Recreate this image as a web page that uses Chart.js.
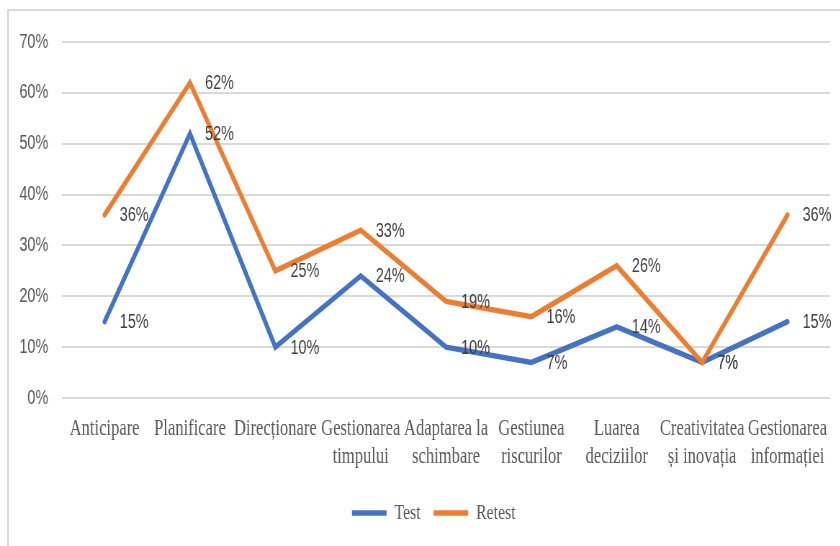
<!DOCTYPE html>
<html>
<head>
<meta charset="utf-8">
<script src="https://cdn.jsdelivr.net/npm/chart.js@4"></script>
<style>
  body { margin: 0; background: #fff; overflow: hidden; }
  #wrap { position: absolute; left: 0; top: 0; width: 1167px; height: 546px;
          transform: scaleX(0.72); transform-origin: 0 0; }
  #frame { position: absolute; left: 7px; top: 9px; width: 900px; height: 600px;
           border-left: 2px solid #d9d9d9; border-top: 2px solid #d9d9d9; }
</style>
</head>
<body>
<div id="frame"></div>
<div id="wrap"><canvas id="chart" width="1167" height="546"></canvas></div>
<script>
/* DATA */
const categories = [
  "Anticipare",
  "Planificare",
  "Direcționare",
  ["Gestionarea", "timpului"],
  ["Adaptarea la", "schimbare"],
  ["Gestiunea", "riscurilor"],
  ["Luarea", "deciziilor"],
  ["Creativitatea", "și inovația"],
  ["Gestionarea", "informației"]
];
const testValues = [15, 52, 10, 24, 10, 7, 14, 7, 15];
const retestValues = [36, 62, 25, 33, 19, 16, 26, 7, 36];
const yTicks = [0, 10, 20, 30, 40, 50, 60, 70];

/* VALUE LABELS */
const valueLabels = {
  id: "valueLabels",
  afterDatasetsDraw(chart) {
    const ctx = chart.ctx;
    ctx.save();
    ctx.font = '20px "Liberation Sans"';
    ctx.fillStyle = "#404040";
    ctx.textAlign = "left";
    ctx.textBaseline = "middle";
    chart.data.datasets.forEach((ds, i) => {
      chart.getDatasetMeta(i).data.forEach((pt, j) => {
        ctx.fillText(ds.data[j] + "%", pt.x + 21, pt.y + 1);
      });
    });
    ctx.restore();
  }
};

/* legend sits a bit right of the plot centre in the original */
const shiftLegend = {
  id: "shiftLegend",
  afterLayout(chart) {
    chart.legend.left += 22;
    chart.legend.right += 22;
  }
};

new Chart(document.getElementById("chart"), {
  type: "line",
  data: {
    labels: categories,
    datasets: [
      { label: "Test", data: testValues, borderColor: "#4472c4", backgroundColor: "#4472c4",
        borderWidth: 5.5, pointRadius: 0, borderCapStyle: "round", order: 1 },
      { label: "Retest", data: retestValues, borderColor: "#ed7d31", backgroundColor: "#ed7d31",
        borderWidth: 5.5, pointRadius: 0, borderCapStyle: "round", order: 0 }
    ]
  },
  options: {
    responsive: false,
    animation: false,
    devicePixelRatio: 1,
    layout: { padding: { top: 42, left: 8, right: 14, bottom: 12 } },
    plugins: {
      tooltip: { enabled: false },
      legend: {
        position: "bottom",
        labels: {
          usePointStyle: true,
          pointStyle: "line",
          pointStyleWidth: 48,
          padding: 18,
          color: "#595959",
          font: { family: "Liberation Serif", size: 22 },
          sort: (a, b) => a.datasetIndex - b.datasetIndex
        }
      }
    },
    scales: {
      x: {
        offset: true,
        grid: { display: false },
        border: { display: false },
        ticks: {
          autoSkip: false, maxRotation: 0, padding: 9,
          color: "#595959",
          font: { family: "Liberation Serif", size: 23, lineHeight: 1.22 }
        },
        afterFit: s => { s.height = 86; }
      },
      y: {
        min: 0, max: 70,
        afterBuildTicks: s => { s.ticks = yTicks.map(v => ({ value: v })); },
        grid: { color: "#d9d9d9", lineWidth: 2, drawTicks: false },
        border: { display: false },
        ticks: {
          padding: 19,
          color: "#595959",
          font: { family: "Liberation Sans", size: 20 },
          callback: v => v + "%"
        },
        afterFit: s => { s.width = 78; }
      }
    }
  },
  plugins: [valueLabels, shiftLegend]
});
</script>
</body>
</html>
